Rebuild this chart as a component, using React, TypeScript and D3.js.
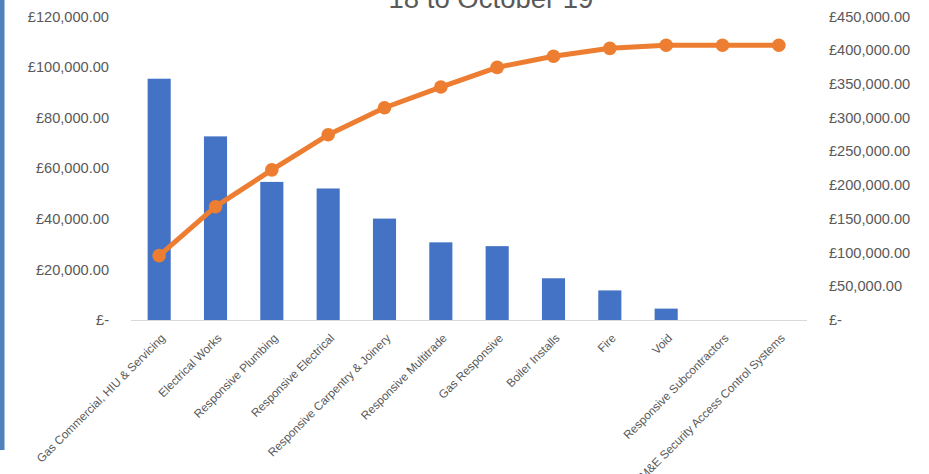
import React from "react";
import * as d3 from "d3";

const categories = [
  "Gas Commercial, HIU & Servicing",
  "Electrical Works",
  "Responsive Plumbing",
  "Responsive Electrical",
  "Responsive Carpentry & Joinery",
  "Responsive Multitrade",
  "Gas Responsive",
  "Boiler Installs",
  "Fire",
  "Void",
  "Responsive Subcontractors",
  "M&E Security Access Control Systems",
];
const spend = [95400, 72600, 54600, 52000, 40100, 30700, 29200, 16500, 11700, 4500, 0, 0];
const cumulative = [95400, 168000, 222600, 274600, 314700, 345400, 374600, 391100, 402800, 407300, 407300, 407300];
const leftTicks = [0, 20000, 40000, 60000, 80000, 100000, 120000];
const rightTicks = [0, 50000, 100000, 150000, 200000, 250000, 300000, 350000, 400000, 450000];
const titleText = "18 to October 19";

const W = 929;
const H = 474;
const plot = { left: 131, right: 807, top: 16.5, bottom: 320 };
const FONT = "'Liberation Sans', Arial, sans-serif";
const GREY = "#595959";

const fmt = (v: number) =>
  v === 0 ? "£-" : "£" + d3.format(",.2f")(v);

export default function App() {
  const x = d3.scaleBand<string>().domain(categories).range([plot.left, plot.right]).paddingInner(0.59).paddingOuter(0.295);
  const yL = d3.scaleLinear().domain([0, 120000]).range([plot.bottom, plot.top]);
  const yR = d3.scaleLinear().domain([0, 450000]).range([plot.bottom, plot.top]);
  const cx = (c: string) => (x(c) as number) + x.bandwidth() / 2;
  const line = d3
    .line<number>()
    .x((_, i) => cx(categories[i]))
    .y((d) => yR(d));

  return (
    <svg
      width={W}
      height={H}
      style={{ position: "absolute", left: 0, top: 0, background: "#fff" }}
      fontFamily={FONT}
    >
      <rect x={0} y={0} width={W} height={H} fill="#fff" />
      <rect x={0} y={0} width={4.5} height={450} fill="#4F81BD" />
      <text x={491} y={8} textAnchor="middle" fontSize={27.5} fill={GREY}>
        {titleText}
      </text>
      {leftTicks.map((t) => (
        <text key={"l" + t} x={109} y={yL(t)} dy="0.35em" textAnchor="end" fontSize={14.6} fill={GREY}>
          {fmt(t)}
        </text>
      ))}
      {rightTicks.map((t) => (
        <text key={"r" + t} x={829} y={yR(t)} dy="0.35em" textAnchor="start" fontSize={14.6} fill={GREY}>
          {fmt(t)}
        </text>
      ))}
      {categories.map((c, i) => (
        <rect
          key={"b" + c}
          x={x(c)}
          y={yL(spend[i])}
          width={x.bandwidth()}
          height={plot.bottom - yL(spend[i])}
          fill="#4472C4"
        />
      ))}
      <line x1={plot.left} x2={plot.right} y1={plot.bottom + 0.5} y2={plot.bottom + 0.5} stroke="#D9D9D9" strokeWidth={1} />
      <path d={line(cumulative) || ""} fill="none" stroke="#ED7D31" strokeWidth={5} strokeLinejoin="round" strokeLinecap="round" />
      {cumulative.map((v, i) => (
        <circle key={"c" + i} cx={cx(categories[i])} cy={yR(v)} r={6.8} fill="#ED7D31" />
      ))}
      {categories.map((c) => (
        <text
          key={"t" + c}
          transform={`translate(${cx(c) + 1},${plot.bottom + 13}) rotate(-45)`}
          textAnchor="end"
          dy="0.7em"
          fontSize={11.7}
          fill={GREY}
        >
          {c}
        </text>
      ))}
    </svg>
  );
}
